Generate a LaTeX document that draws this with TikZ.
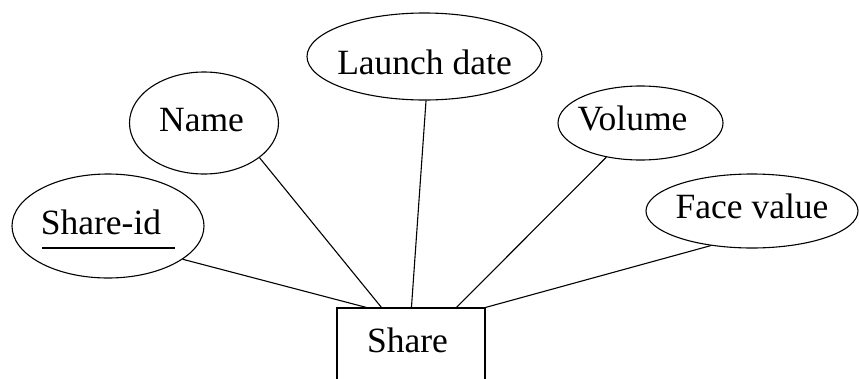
\documentclass[tikz,border=0pt]{standalone}
\usepackage{fontspec}
\setmainfont{Liberation Serif}
\usetikzlibrary{shapes.geometric,calc}
% #1 = downward shift of the cap centre, #2 = text
\newcommand{\zt}[2]{\raisebox{\dimexpr-11.75pt-#1\relax}[0pt][0pt]{\makebox[0pt][c]{#2}}}
\begin{document}
\begin{tikzpicture}[x=1pt,y=-1pt,
  attr/.style={draw, ellipse, inner sep=0pt, line width=1.1pt},
  entity/.style={draw, rectangle, inner sep=0pt, line width=1.1pt},
  link/.style={line width=1.1pt},
  font=\fontsize{35.5}{40}\selectfont]
\clip (0,0) rectangle (859,378);
\fill[white] (0,0) rectangle (859,378);
\node[entity, minimum width=148pt, minimum height=74pt] (share) at (411,345) {\zt{-4pt}{Share\kern7pt}};
\node[attr, minimum width=192pt, minimum height=104pt] (sid) at (108,226) {\zt{-3.5pt}{Share-id\kern14pt}};
\node[attr, minimum width=149pt, minimum height=102pt] (name) at (204,123) {\zt{-3.5pt}{Name\kern5pt}};
\node[attr, minimum width=235pt, minimum height=87pt] (launch) at (424.5,56.5) {\zt{6pt}{Launch date}};
\node[attr, minimum width=165pt, minimum height=74pt] (vol) at (640.5,123) {\zt{-4.5pt}{Volume\kern16pt}};
\node[attr, minimum width=212pt, minimum height=74pt] (face) at (752,211) {\zt{-4pt}{Face value}};
\coordinate (u1) at ($(sid.center)+(-66,22)$);
\coordinate (u2) at ($(sid.center)+(67,22)$);
\draw[link] (u1) -- (u2);
\coordinate (s1) at ($(share.north west)+(30,0)$);
\coordinate (s2) at ($(share.north west)+(45,0)$);
\coordinate (s3) at ($(share.north west)+(75,0)$);
\coordinate (s4) at ($(share.north west)+(120,0)$);
\draw[link] (sid.-24) -- (s1);
\draw[link] (name.-32) -- (s2);
\draw[link] (launch.-88) -- (s3);
\draw[link] (vol.-135) -- (s4);
\draw[link] (face.-140) -- (share.north east);
\end{tikzpicture}
\end{document}
